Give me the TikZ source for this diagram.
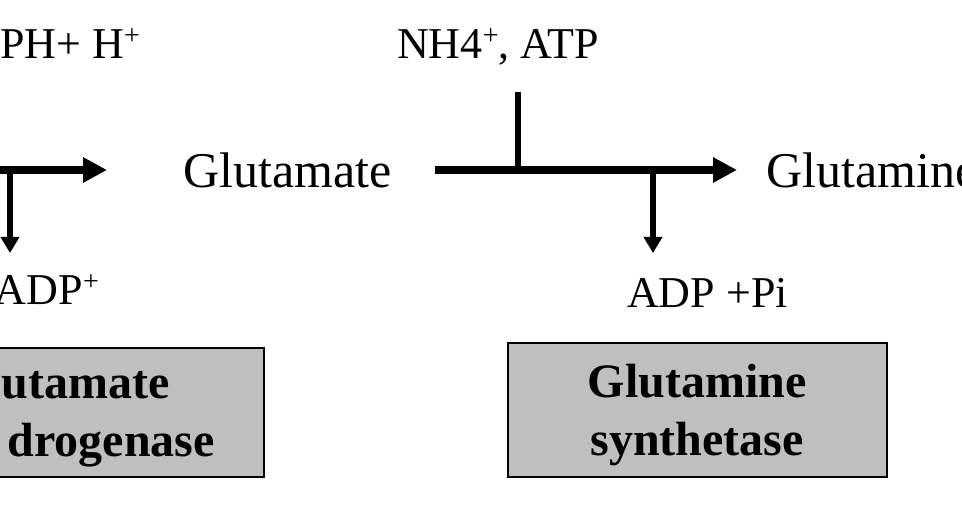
\documentclass[tikz,border=0pt]{standalone}
\usepackage{fontspec}
\setmainfont{Liberation Serif}
\usetikzlibrary{arrows.meta,positioning}
\newcommand{\ionsup}[1]{\raisebox{14pt}{\fontsize{28}{28}\selectfont #1}}
\tikzset{
    chem/.style =   {inner sep=0pt,
                    text=black,
                    font=\fontsize{44}{50}\selectfont},
    compound/.style = {inner sep=0pt,
                    text=black,
                    font=\fontsize{50}{56}\selectfont},
    enzyme/.style = {rectangle,
                    fill=black!25,
                    draw=black,
                    line width=2pt,
                    inner sep=0pt},
    enzname/.style = {inner sep=0pt,
                    text=black,
                    font=\fontsize{48}{58}\selectfont\bfseries},
    -,
    main/.style =   {line width=8pt,
                    -{Triangle[length=24pt,width=24pt]}},
    side/.style =   {line width=5.5pt},
    sidearrow/.style = {line width=5.5pt,
                    -{Triangle[length=16pt,width=18pt]}}
}
\begin{document}
\begin{tikzpicture}[x=1pt,y=-1pt]
    \useasboundingbox (0,0) rectangle (962,505);
    % compounds and cofactors
    \node[chem, anchor=base west]     (nadph) at (0,59)    {PH+ H\ionsup{+}};
    \node[chem, anchor=base east]     (nadp)  at (99,305)  {ADP\ionsup{+}};
    \node[compound, anchor=base west] (glu)   at (183,188) {Glutamate};
    \node[chem, anchor=base west]     (nh4)   at (397,59)  {NH4\ionsup{+}, ATP};
    \node[compound, anchor=base west] (gln)   at (766,188) {Glutamine};
    \node[chem, anchor=base west]     (adppi) at (627,308) {ADP +Pi};
    % enzymes
    \node[enzyme, anchor=north east, minimum width=290pt, minimum height=129pt] (gdh) at (265,347) {};
    \node[enzname, anchor=base east]  (gdh1)  at (170,398) {utamate};
    \node[enzname, anchor=base east]  (gdh2)  at (215,456) {drogenase};
    \node[enzyme, anchor=north west, minimum width=379pt, minimum height=134pt] (gs) at (507,342) {};
    \node[enzname, anchor=base]       (gs1)   at (697,397) {Glutamine};
    \node[enzname, anchor=base]       (gs2)   at (697,455) {synthetase};
    % reaction arrows
    \coordinate (gdhin)   at (0,170);
    \coordinate (gdhtip)  at (107,170);
    \coordinate (gdhout)  at (10,170);
    \coordinate (nadptip) at (10,253);
    \coordinate (gsin)    at (435,170);
    \coordinate (gstip)   at (737,170);
    \coordinate (nh4in)   at (518,92);
    \coordinate (nh4join) at (518,170);
    \coordinate (gsout)   at (653,170);
    \coordinate (adptip)  at (653,253);
    \draw[main]      (gdhin) -- (gdhtip);
    \draw[sidearrow] (gdhout) -- (nadptip);
    \draw[side]      (nh4in) -- (nh4join);
    \draw[main]      (gsin) -- (gstip);
    \draw[sidearrow] (gsout) -- (adptip);
\end{tikzpicture}
\end{document}
